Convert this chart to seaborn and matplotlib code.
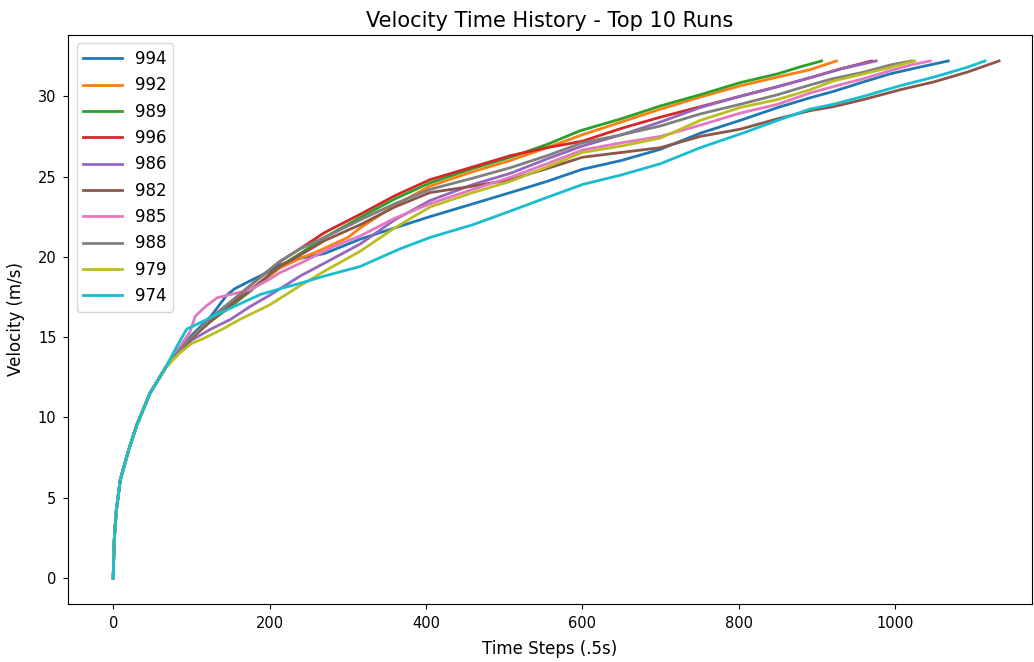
import pandas as pd
import matplotlib
matplotlib.use("Agg")
import matplotlib.pyplot as plt
import seaborn as sns

# Run ids, in legend order
runs = ["994", "992", "989", "996", "986", "982", "985", "988", "979", "974"]

# Shared start of every run (the curves overlap here)
early_t = [0, 1, 2, 4, 9, 20, 30, 47, 67]
early_v = [0, 2.0, 2.9, 4.2, 6.1, 8.0, 9.5, 11.5, 13.1]

# Per-run values
t_994 = [85, 100, 125, 145, 155, 175, 200, 213, 239, 270, 316, 360, 405, 460, 508, 555, 600, 650, 700, 751, 802, 850, 891, 921, 960, 994, 1030, 1068]
v_994 = [14.2, 15.1, 16.3, 17.6, 18.0, 18.5, 19.1, 19.5, 19.9, 20.2, 21.1, 21.8, 22.5, 23.3, 24.0, 24.7, 25.45, 26.0, 26.7, 27.7, 28.5, 29.3, 29.9, 30.3, 30.9, 31.4, 31.8, 32.2]

t_992 = [85, 100, 125, 150, 175, 200, 213, 239, 260, 300, 316, 360, 405, 460, 508, 555, 600, 650, 700, 751, 802, 850, 891, 925]
v_992 = [14.1, 15.0, 16.0, 16.9, 17.95, 18.8, 19.3, 19.9, 20.3, 21.2, 21.8, 23.2, 24.4, 25.3, 26.0, 26.8, 27.6, 28.4, 29.2, 29.95, 30.65, 31.2, 31.65, 32.2]

t_989 = [85, 100, 125, 150, 175, 200, 213, 239, 270, 316, 360, 405, 460, 508, 555, 597, 650, 700, 751, 802, 850, 880, 906]
v_989 = [14.2, 15.0, 16.0, 16.9, 17.85, 18.9, 19.4, 20.2, 21.2, 22.45, 23.6, 24.6, 25.5, 26.2, 27.0, 27.85, 28.6, 29.4, 30.1, 30.85, 31.4, 31.85, 32.2]

t_996 = [85, 100, 125, 150, 175, 200, 213, 239, 270, 316, 360, 405, 460, 508, 555, 600, 650, 700, 751, 802, 850, 891, 930, 970]
v_996 = [14.2, 15.0, 16.1, 17.1, 18.2, 19.2, 19.7, 20.5, 21.5, 22.65, 23.8, 24.8, 25.6, 26.3, 26.8, 27.2, 28.0, 28.7, 29.35, 30.0, 30.6, 31.15, 31.7, 32.2]

t_986 = [85, 100, 125, 150, 175, 200, 226, 239, 270, 316, 360, 405, 460, 508, 555, 600, 650, 700, 751, 802, 850, 891, 930, 976]
v_986 = [14.1, 14.8, 15.5, 16.1, 16.9, 17.6, 18.4, 18.8, 19.6, 20.8, 22.3, 23.5, 24.5, 25.2, 26.1, 26.9, 27.6, 28.4, 29.3, 30.0, 30.6, 31.15, 31.7, 32.2]

t_982 = [85, 100, 125, 150, 175, 200, 213, 239, 270, 316, 360, 405, 460, 508, 555, 600, 650, 700, 751, 802, 850, 891, 921, 960, 1006, 1050, 1092, 1133]
v_982 = [14.1, 14.9, 16.0, 17.0, 17.9, 18.9, 19.4, 20.1, 21.0, 22.0, 23.1, 24.0, 24.4, 24.8, 25.5, 26.2, 26.5, 26.8, 27.5, 27.95, 28.6, 29.1, 29.35, 29.8, 30.4, 30.9, 31.5, 32.2]

t_985 = [88, 98, 105, 118, 133, 150, 175, 200, 213, 248, 280, 316, 360, 405, 460, 508, 555, 600, 650, 700, 751, 802, 850, 891, 921, 960, 994, 1020, 1045]
v_985 = [14.6, 15.3, 16.3, 16.9, 17.45, 17.65, 17.95, 18.6, 19.0, 19.8, 20.6, 21.3, 22.4, 23.3, 24.2, 24.95, 25.8, 26.65, 27.1, 27.5, 28.2, 28.95, 29.5, 30.2, 30.6, 31.1, 31.6, 31.95, 32.2]

t_988 = [85, 100, 125, 150, 175, 200, 213, 239, 270, 316, 360, 405, 460, 508, 555, 600, 650, 700, 751, 802, 850, 891, 921, 960, 994, 1021]
v_988 = [14.2, 15.0, 16.2, 17.2, 18.2, 19.2, 19.7, 20.5, 21.2, 22.3, 23.3, 24.2, 24.9, 25.55, 26.3, 27.1, 27.6, 28.15, 28.9, 29.5, 30.1, 30.7, 31.1, 31.5, 31.95, 32.2]

t_979 = [85, 100, 115, 140, 162, 200, 239, 270, 316, 360, 405, 460, 508, 555, 600, 650, 700, 751, 802, 850, 891, 921, 960, 994, 1025]
v_979 = [14.0, 14.6, 14.9, 15.5, 16.1, 17.0, 18.2, 19.1, 20.35, 21.8, 23.1, 24.0, 24.7, 25.6, 26.5, 26.9, 27.4, 28.5, 29.3, 29.8, 30.4, 30.95, 31.4, 31.8, 32.2]

t_974 = [80, 94, 103, 128, 150, 188, 213, 239, 270, 316, 367, 405, 460, 508, 555, 600, 650, 700, 751, 802, 850, 891, 921, 960, 1006, 1050, 1092, 1115]
v_974 = [14.3, 15.5, 15.7, 16.3, 16.8, 17.65, 18.0, 18.35, 18.8, 19.4, 20.5, 21.2, 22.0, 22.85, 23.7, 24.5, 25.1, 25.8, 26.8, 27.65, 28.5, 29.2, 29.5, 30.0, 30.65, 31.2, 31.8, 32.2]

series = {
    "994": (t_994, v_994), "992": (t_992, v_992), "989": (t_989, v_989),
    "996": (t_996, v_996), "986": (t_986, v_986), "982": (t_982, v_982),
    "985": (t_985, v_985), "988": (t_988, v_988), "979": (t_979, v_979),
    "974": (t_974, v_974),
}

rows = []
for run in runs:
    ts, vs = series[run]
    for t, v in zip(early_t + ts, early_v + vs):
        rows.append({"step": t, "velocity": v, "run": run})
df = pd.DataFrame(rows)

fig = plt.figure(figsize=(10.34, 6.62), dpi=100)
ax = fig.add_axes([0.066, 0.088, 0.932, 0.859])

sns.lineplot(data=df, x="step", y="velocity", hue="run", hue_order=runs,
             palette="tab10", linewidth=2, sort=True, errorbar=None, ax=ax)

ax.set_xlim(-57.5, 1175)
ax.set_title("Velocity Time History - Top 10 Runs", fontsize=15)
ax.set_xlabel("Time Steps (.5s)", fontsize=12, labelpad=7)
ax.set_ylabel("Velocity (m/s)", fontsize=12, labelpad=9)
ax.tick_params(labelsize=10.5, pad=5)
sns.move_legend(ax, "upper left", title=None, fontsize=12, handlelength=2.3)

fig.savefig("out.png", dpi=100)
